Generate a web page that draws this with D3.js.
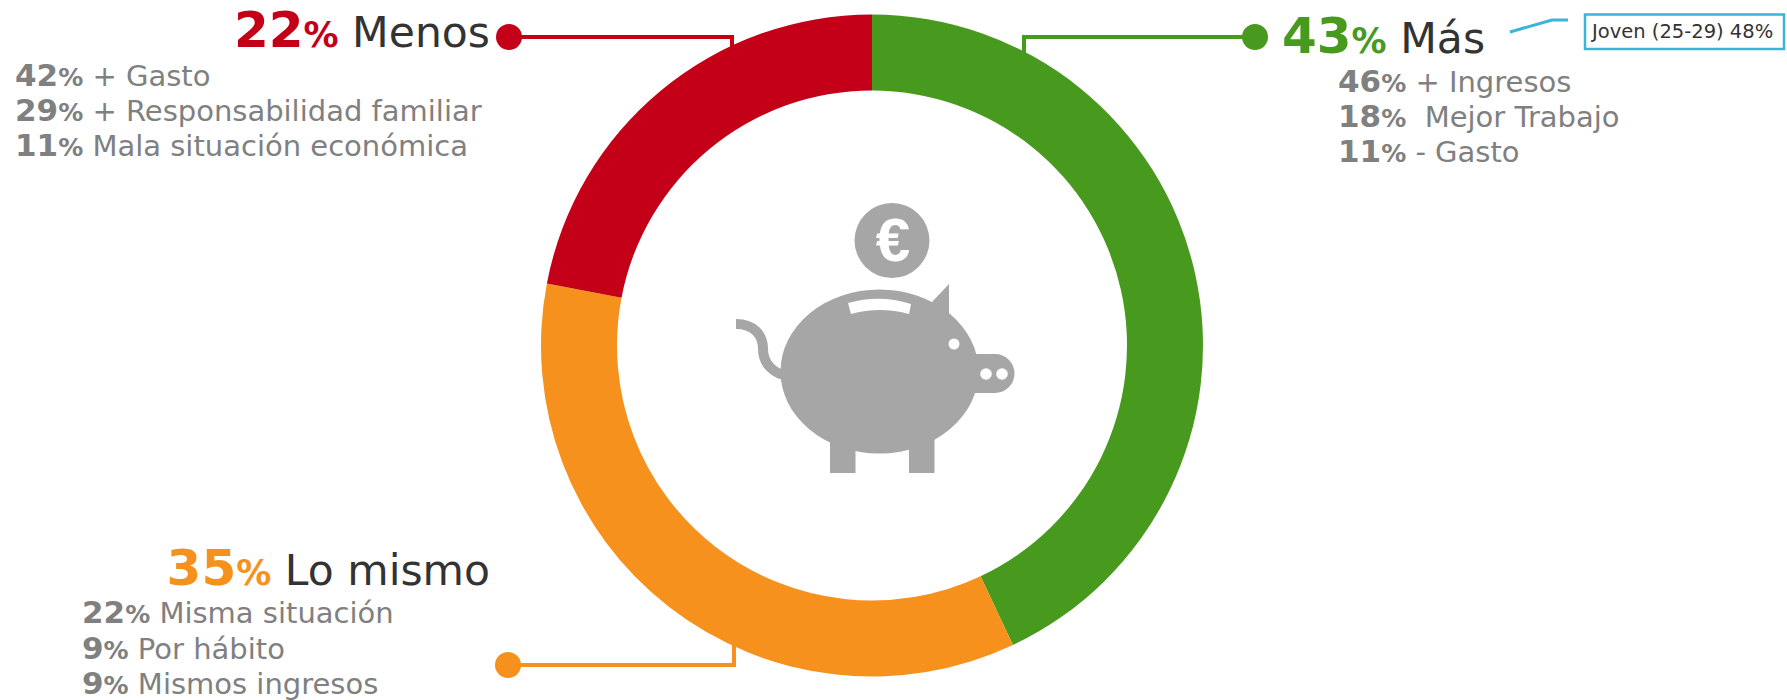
<!DOCTYPE html>
<html>
<head>
<meta charset="utf-8">
<script src="https://cdn.jsdelivr.net/npm/d3@7"></script>
<style>
  html, body { margin: 0; padding: 0; background: #fff; }
  svg { display: block; }
  text { font-family: "DejaVu Sans", Verdana, sans-serif; white-space: pre; }
</style>
</head>
<body>
<div id="chart"></div>
<script>
// share of answers, clockwise from 12 o'clock
var categories = ["Más", "Lo mismo", "Menos"];
var values = [43, 35, 22];
var colors = ["#489a1e", "#f7911e", "#c40018"];

var masReasons = [["46", " + Ingresos"], ["18", "  Mejor Trabajo"], ["11", " - Gasto"]];
var mismoReasons = [["22", " Misma situación"], ["9", " Por hábito"], ["9", " Mismos ingresos"]];
var menosReasons = [["42", " + Gasto"], ["29", " + Responsabilidad familiar"], ["11", " Mala situación económica"]];
var calloutText = "Joven (25-29) 48%";

var svgWidth = 1787;
var svgHeight = 700;
var cx = 872;
var cy = 345.5;
var outerRadius = 331;
var innerRadius = 255;
var iconGrey = "#a6a6a6";

var svg = d3.select("#chart")
        .append("svg")
        .attr("width", svgWidth)
        .attr("height", svgHeight);

// donut
var pie = d3.pie().sort(null).value(function (d) { return d; });
var arc = d3.arc().innerRadius(innerRadius).outerRadius(outerRadius);

svg.append("g")
        .attr("transform", "translate(" + cx + "," + cy + ")")
        .selectAll("path")
        .data(pie(values))
        .enter()
        .append("path")
        .attr("d", arc)
        .attr("fill", function (d, i) { return colors[i]; });

// leader line + dot for each slice
function leader(color, dotX, lineY, elbowX, elbowY)
{
    svg.append("path")
            .attr("d", "M" + dotX + "," + lineY + "H" + elbowX + "V" + elbowY)
            .attr("fill", "none")
            .attr("stroke", color)
            .attr("stroke-width", 4);
    svg.append("circle")
            .attr("cx", dotX)
            .attr("cy", lineY)
            .attr("r", 13)
            .attr("fill", color);
}
leader(colors[0], 1255, 37, 1024, 54);
leader(colors[1], 508, 665, 734, 644);
leader(colors[2], 509, 37, 732, 50);

// big heading: number, small %, name
function heading(x, y, anchor, value, name, color)
{
    var t = svg.append("text")
            .attr("x", x)
            .attr("y", y)
            .attr("text-anchor", anchor);
    t.append("tspan").attr("font-size", 50).attr("font-weight", "bold").attr("fill", color).text(value);
    t.append("tspan").attr("font-size", 35).attr("font-weight", "bold").attr("fill", color).text("%");
    t.append("tspan").attr("font-size", 42.5).attr("fill", "#333333").text(" " + name);
}
heading(1282, 53, "start", values[0], categories[0], colors[0]);
heading(490, 585, "end", values[1], categories[1], colors[1]);
heading(490, 47, "end", values[2], categories[2], colors[2]);

// reason lists under each heading
function reasons(list, x, baselines)
{
    list.forEach(function (r, i) {
        var t = svg.append("text")
                .attr("x", x)
                .attr("y", baselines[i])
                .attr("fill", "#808080");
        t.append("tspan").attr("font-size", 31).attr("font-weight", "bold").text(r[0]);
        t.append("tspan").attr("font-size", 25).attr("font-weight", "bold").text("%");
        t.append("tspan").attr("font-size", 29).text(r[1]);
    });
}
reasons(masReasons, 1338, [92, 127, 162]);
reasons(mismoReasons, 82, [623, 659, 694]);
reasons(menosReasons, 15, [86, 121, 156]);

// callout top right
svg.append("path")
        .attr("d", "M1510,32L1552,20H1568")
        .attr("fill", "none")
        .attr("stroke", "#3cb4d8")
        .attr("stroke-width", 3);
svg.append("rect")
        .attr("x", 1585)
        .attr("y", 14.5)
        .attr("width", 199)
        .attr("height", 34.5)
        .attr("fill", "#fff")
        .attr("stroke", "#3cb4d8")
        .attr("stroke-width", 2.5);
svg.append("text")
        .attr("x", 1592)
        .attr("y", 38)
        .attr("font-size", 19.5)
        .attr("fill", "#333333")
        .text(calloutText);

// piggy bank icon
var pig = svg.append("g").attr("fill", iconGrey);

pig.append("path")
        .attr("d", "M736,324c18,0 27,11 27,25c0,16 12,25 25,27")
        .attr("fill", "none")
        .attr("stroke", iconGrey)
        .attr("stroke-width", 10);
pig.append("ellipse").attr("cx", 879.5).attr("cy", 371.5).attr("rx", 99).attr("ry", 82);
pig.append("path").attr("d", "M932,302L949,284V318Z");
pig.append("path").attr("d", "M970,354H995a19.5,19.5 0 0 1 0,39H970Z");
pig.append("rect").attr("x", 830).attr("y", 430).attr("width", 25.5).attr("height", 43);
pig.append("rect").attr("x", 909).attr("y", 430).attr("width", 25.5).attr("height", 43);

pig.append("path")
        .attr("d", "M848,303Q880,294 911,304L909,314Q880,306 851,314Z")
        .attr("fill", "#fff");
pig.append("circle").attr("cx", 954).attr("cy", 344).attr("r", 5.5).attr("fill", "#fff");
pig.append("circle").attr("cx", 986).attr("cy", 374).attr("r", 5.8).attr("fill", "#fff");
pig.append("circle").attr("cx", 1002).attr("cy", 374).attr("r", 5.8).attr("fill", "#fff");

// coin
pig.append("circle").attr("cx", 892).attr("cy", 240.5).attr("r", 37.5);
svg.append("text")
        .attr("x", 893)
        .attr("y", 261)
        .attr("text-anchor", "middle")
        .attr("font-size", 62)
        .attr("font-weight", "bold")
        .style("font-family", "'Liberation Sans', sans-serif")
        .attr("fill", "#fff")
        .text("€");
</script>
</body>
</html>
